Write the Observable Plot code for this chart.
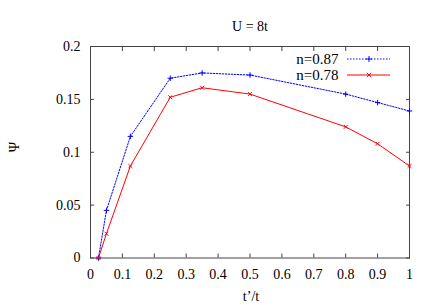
<!DOCTYPE html>
<html><head><meta charset="utf-8">
<script src="https://cdn.jsdelivr.net/npm/d3@7"></script>
<script src="https://cdn.jsdelivr.net/npm/@observablehq/plot@0.6"></script>
<style>body{margin:0;background:#fff}</style>
</head><body><div id="chart"></div>
<script>
const xValues = [0.025, 0.05, 0.125, 0.25, 0.35, 0.5, 0.8, 0.9, 1.0];
const psiN087 = [0, 0.045, 0.115, 0.17, 0.175, 0.173, 0.155, 0.147, 0.139];
const psiN078 = [0, 0.023, 0.087, 0.152, 0.161, 0.155, 0.124, 0.108, 0.087];
const seriesNames = ["n=0.87", "n=0.78"];
const seriesColors = ["#0000ff", "#ff0000"];
const xTicks = [0, 0.1, 0.2, 0.3, 0.4, 0.5, 0.6, 0.7, 0.8, 0.9, 1];
const xTickLabels = ["0", "0.1", "0.2", "0.3", "0.4", "0.5", "0.6", "0.7", "0.8", "0.9", "1"];
const yTicks = [0, 0.05, 0.1, 0.15, 0.2];
const yTickLabels = ["0", "0.05", "0.1", "0.15", "0.2"];
const titleText = "U = 8t";
const xLabel = "t\u2019/t";
const yLabel = "\u03A8";

const rows = [];
xValues.forEach((x, i) => rows.push({x, y: psiN087[i], s: seriesNames[0]}));
xValues.forEach((x, i) => rows.push({x, y: psiN078[i], s: seriesNames[1]}));
const blue = rows.filter(d => d.s === seriesNames[0]);
const red = rows.filter(d => d.s === seriesNames[1]);
const fmtX = d => xTickLabels[xTicks.indexOf(d)] ?? d;
const fmtY = d => yTickLabels[yTicks.indexOf(d)] ?? d;
const frameColor = "#444";
const serif = "'Times New Roman', 'Liberation Serif', Times, 'DejaVu Serif', serif";

const chart = Plot.plot({
  width: 436,
  height: 305,
  marginLeft: 90,
  marginRight: 27,
  marginTop: 46,
  marginBottom: 47.5,
  style: {fontSize: "14px", fontFamily: serif, background: "#fff", color: "#000"},
  x: {domain: [0, 1]},
  y: {domain: [0, 0.2]},
  marks: [
    Plot.frame({stroke: frameColor, strokeWidth: 1}),
    Plot.axisX(xTicks, {anchor: "bottom", tickSize: -4, tickPadding: 15, tickFormat: fmtX, stroke: frameColor, fill: "#000", fontSize: 14, fontFamily: serif, label: null}),
    Plot.axisX(xTicks, {anchor: "top", tickSize: -4, tickFormat: () => "", stroke: frameColor, label: null}),
    Plot.axisY(yTicks, {anchor: "left", tickSize: -4, tickPadding: 14, tickFormat: fmtY, stroke: frameColor, fill: "#000", fontSize: 14, fontFamily: serif, label: null}),
    Plot.axisY(yTicks, {anchor: "right", tickSize: -4, tickFormat: () => "", stroke: frameColor, label: null}),
    Plot.line(blue, {x: "x", y: "y", stroke: seriesColors[0], strokeWidth: 1, strokeDasharray: "1.5,1.5"}),
    Plot.dot(blue, {x: "x", y: "y", symbol: "plus", stroke: seriesColors[0], r: 1.9, strokeWidth: 1}),
    Plot.line(red, {x: "x", y: "y", stroke: seriesColors[1], strokeWidth: 1}),
    Plot.dot(red, {x: "x", y: "y", symbol: "times", stroke: seriesColors[1], r: 1.9, strokeWidth: 1}),
    Plot.text([titleText], {frameAnchor: "top", lineAnchor: "bottom", dy: -16, fontSize: 14, fontFamily: serif, fill: "#000"}),
    Plot.text([xLabel], {frameAnchor: "bottom", lineAnchor: "bottom", dy: 43, dx: 1, fontSize: 14, fontFamily: serif, fill: "#000"}),
    Plot.text([yLabel], {frameAnchor: "left", rotate: -90, dx: -76, fontSize: 14, fontFamily: serif, fill: "#000"}),
    Plot.text([seriesNames[0]], {frameAnchor: "top-right", textAnchor: "end", lineAnchor: "middle", dx: -71, dy: 13, fontSize: 15, fontFamily: serif, fill: "#000"}),
    Plot.text([seriesNames[1]], {frameAnchor: "top-right", textAnchor: "end", lineAnchor: "middle", dx: -71, dy: 29, fontSize: 15, fontFamily: serif, fill: "#000"})
  ]
});
document.getElementById("chart").appendChild(chart);

// legend line samples with symbols
const svg = d3.select(chart);
const rightEdge = 436 - 27;
const legendRows = seriesNames.map((name, i) => ({color: seriesColors[i], dash: i === 0 ? "1.5,1.5" : null, sym: i === 0 ? d3.symbolPlus : d3.symbolTimes, y: 46 + 13 + i * 16}));
const g = svg.append("g");
legendRows.forEach(r => {
  g.append("line").attr("x1", rightEdge - 62).attr("x2", rightEdge - 19).attr("y1", r.y).attr("y2", r.y)
    .attr("stroke", r.color).attr("stroke-width", 1).attr("stroke-dasharray", r.dash);
  g.append("path").attr("d", d3.symbol(r.sym, 14)()).attr("transform", `translate(${rightEdge - 40},${r.y})`)
    .attr("fill", "none").attr("stroke", r.color).attr("stroke-width", 1);
});
</script>
</body></html>
